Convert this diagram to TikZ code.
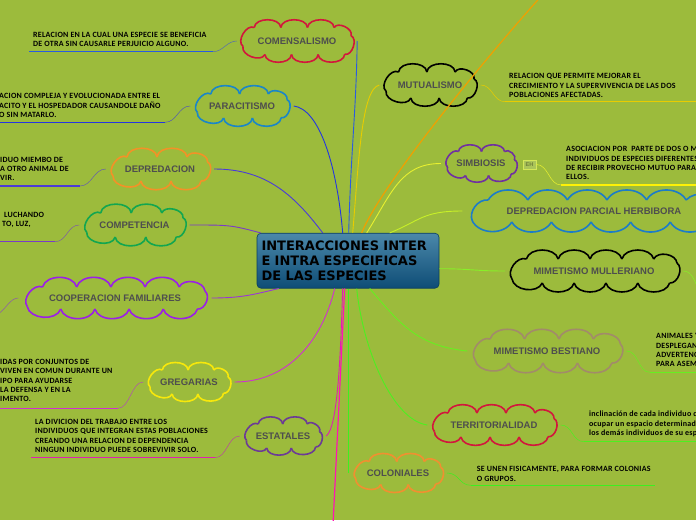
\documentclass[tikz,border=0pt]{standalone}
\usepackage{fontspec}
\usepackage{tikz}
\usetikzlibrary{calc,decorations.markings}
\newfontfamily\cloudfont{Liberation Sans}
\newfontfamily\descfont[LetterSpace=3]{Carlito}
\newfontfamily\titlefont{DejaVu Sans}
\definecolor{bgolive}{HTML}{9CBB3C}
\definecolor{labelgray}{HTML}{4E4E4E}
\definecolor{comred}{HTML}{D2173C}
\definecolor{parblue}{HTML}{1A86C8}
\definecolor{deporange}{HTML}{F39227}
\definecolor{compgreen}{HTML}{12A650}
\definecolor{cooppurple}{HTML}{9B1FE8}
\definecolor{gregyellow}{HTML}{F7E80B}
\definecolor{estpurple}{HTML}{6C3B96}
\definecolor{simpurple}{HTML}{7030A0}
\definecolor{herbblue}{HTML}{1C7CC8}
\definecolor{besbrown}{HTML}{A28B6A}
\definecolor{colorange}{HTML}{F09030}
\definecolor{lblue}{HTML}{2A5BE0}
\definecolor{lparblue}{HTML}{2436E0}
\definecolor{ldep}{HTML}{4B3BD8}
\definecolor{lcomp}{HTML}{7B3BC8}
\definecolor{lcoop}{HTML}{9A35D8}
\definecolor{lgreg}{HTML}{D030D0}
\definecolor{lest}{HTML}{E020B0}
\definecolor{lpink}{HTML}{FF14B4}
\definecolor{lmut}{HTML}{E8CC00}
\definecolor{lorange}{HTML}{F0A000}
\definecolor{lsim}{HTML}{E8F030}
\definecolor{lherb}{HTML}{C8F028}
\definecolor{lmull}{HTML}{88F028}
\definecolor{lbes}{HTML}{66F020}
\definecolor{lter}{HTML}{4CF020}
\definecolor{lcol}{HTML}{3CF020}
\definecolor{hubtop}{HTML}{4B88AA}
\definecolor{hubbot}{HTML}{0E4D76}
\definecolor{ehedge}{HTML}{D4E65A}
\definecolor{ehtext}{HTML}{6E7E3A}

% cloud outline: centre x, centre y, half width, half height, puffs, bend, colour
\newcommand{\puffcloud}[7]{%
  \path[rounded corners=8pt, decorate, decoration={markings, mark=between positions {1/(2*#5)} and 1 step {1/#5} with {\coordinate (cp\pgfkeysvalueof{/pgf/decoration/mark info/sequence number});}}]
    ({#1+#3},{#2}) -- ({#1+#3},{#2+#4}) -- ({#1-#3},{#2+#4}) -- ({#1-#3},{#2-#4}) -- ({#1+#3},{#2-#4}) -- cycle;
  \foreach \i in {1,...,#5} {
    \pgfmathtruncatemacro{\j}{mod(\i,#5)+1}
    \draw[#7, line width=1.6pt] (cp\i) to[bend left=#6] (cp\j);
  }
}

\begin{document}
\begin{tikzpicture}[x=1pt,y=-1pt,
  topic/.style={rectangle, inner sep=0pt, text=labelgray, font=\cloudfont\bfseries\fontsize{9.5}{11}\selectfont},
  hub/.style={rectangle, rounded corners=4pt, draw=hubbot!80!black, line width=0.6pt, top color=hubtop, bottom color=hubbot, minimum width=182pt, minimum height=55pt, text width=173pt, inner xsep=4.5pt, align=left, font=\titlefont\bfseries\fontsize{13}{15.3}\selectfont},
  desc/.style={anchor=north west, inner sep=0pt, align=left, text=black, font=\descfont\bfseries\fontsize{8}{9.3}\selectfont},
  link/.style={draw=#1, line width=0.9pt},
  under/.style={draw=#1, line width=1.4pt},
  thin/.style={draw=#1, line width=0.5pt}
]
\useasboundingbox (0,0) rectangle (696,520);
\clip (0,0) rectangle (696,520);
\fill[bgolive] (0,0) rectangle (696,520);

\node[hub] (ctr) at (348,260.7) {INTERACCIONES INTER\\E INTRA ESPECIFICAS\\DE LAS ESPECIES};

\puffcloud{297}{41}{54}{13.5}{10}{85}{comred}
\puffcloud{242}{106}{45}{12}{8}{85}{parblue}
\puffcloud{160}{169}{47.5}{12}{8}{85}{deporange}
\puffcloud{134.5}{225}{48.5}{12}{8}{85}{compgreen}
\puffcloud{115}{298}{90}{11}{12}{75}{cooppurple}
\puffcloud{189}{382}{39}{12}{8}{85}{gregyellow}
\puffcloud{283}{436}{36.5}{12}{8}{85}{estpurple}
\puffcloud{430}{85}{44}{13}{8}{85}{black}
\puffcloud{481}{163.5}{33.5}{12}{8}{85}{simpurple}
\puffcloud{594}{211}{126}{11}{14}{60}{herbblue}
\puffcloud{594}{271}{83}{12}{12}{75}{black}
\puffcloud{547}{351}{73.5}{12}{10}{75}{besbrown}
\puffcloud{494}{425}{60}{12}{10}{80}{comred}
\puffcloud{398}{473}{42.5}{11.5}{8}{85}{colorange}

\node[topic, minimum width=120pt, minimum height=43pt] (com) at (297,41) {COMENSALISMO};
\node[topic, minimum width=103pt, minimum height=40pt] (par) at (242,106) {PARACITISMO};
\node[topic, minimum width=108pt, minimum height=40pt] (dep) at (160,169) {DEPREDACION};
\node[topic, minimum width=110pt, minimum height=40pt] (comp) at (134.5,225) {COMPETENCIA};
\node[topic, minimum width=193pt, minimum height=38pt] (coop) at (115,298) {COOPERACION FAMILIARES};
\node[topic, minimum width=91pt, minimum height=40pt] (greg) at (189,382) {GREGARIAS};
\node[topic, minimum width=86pt, minimum height=40pt] (est) at (283,436) {ESTATALES};
\node[topic, minimum width=101pt, minimum height=42pt] (mut) at (430,85) {MUTUALISMO};
\node[topic, minimum width=80pt, minimum height=40pt] (sim) at (481,163.5) {SIMBIOSIS};
\node[rectangle, draw=ehedge, fill=bgolive!85!white, line width=0.8pt, minimum width=13pt, minimum height=9pt, inner sep=0pt, text=ehtext, font=\cloudfont\bfseries\fontsize{5.5}{6}\selectfont] (eh) at (529.5,164.5) {EH};
\node[topic, minimum width=263pt, minimum height=37pt] (herb) at (594,211) {DEPREDACION PARCIAL HERBIBORA};
\node[topic, minimum width=178pt, minimum height=40pt] (mull) at (594,271) {MIMETISMO MULLERIANO};
\node[topic, minimum width=159pt, minimum height=40pt] (bes) at (547,351) {MIMETISMO BESTIANO};
\node[topic, minimum width=133pt, minimum height=40pt] (ter) at (494,425) {TERRITORIALIDAD};
\node[topic, minimum width=98pt, minimum height=39pt] (col) at (398,473) {COLONIALES};

\node[desc] (comDesc) at (33,31.6) {RELACION EN LA CUAL UNA ESPECIE SE BENEFICIA\\DE OTRA SIN CAUSARLE PERJUICIO ALGUNO.};
\node[desc] (parDesc) at (-1,93.3) {ACION COMPLEJA Y EVOLUCIONADA ENTRE EL\\ACITO Y EL HOSPEDADOR CAUSANDOLE DAÑO\\O SIN MATARLO.};
\node[desc] (depDesc) at (0,156.7) {IDUO MIEMBO DE\\A OTRO ANIMAL DE\\VIR.};
\node[desc] (compDesc) at (2,211.7) {\hspace*{2pt}LUCHANDO\\TO, LUZ,};
\node[desc] (gregDesc) at (0,359) {IDAS POR CONJUNTOS DE\\VIVEN EN COMUN DURANTE UN\\IPO PARA AYUDARSE\\LA DEFENSA Y EN LA\\IMENTO.};
\node[desc] (estDesc) at (35,419) {LA DIVICION DEL TRABAJO ENTRE LOS\\INDIVIDUOS QUE INTEGRAN ESTAS POBLACIONES\\CREANDO UNA RELACION DE DEPENDENCIA\\NINGUN INDIVIDUO PUEDE SOBREVIVIR SOLO.};
\node[desc] (mutDesc) at (509,73.3) {RELACION QUE PERMITE MEJORAR EL\\CRECIMIENTO Y LA SUPERVIVENCIA DE LAS DOS\\POBLACIONES AFECTADAS.};
\node[desc] (simDesc) at (566,146.3) {ASOCIACION POR \ PARTE DE DOS O M\\INDIVIDUOS DE ESPECIES DIFERENTES\\DE RECIBIR PROVECHO MUTUO PARA\\ELLOS.};
\node[desc] (besDesc) at (656,333.3) {ANIMALES Y\\DESPLEGAN\\ADVERTENC\\PARA ASEM};
\node[desc] (terDesc) at (589,411) {inclinación de cada individuo d\\ocupar un espacio determinad\\los demás individuos de su esp};
\node[desc] (colDesc) at (476.7,466.3) {SE UNEN FISICAMENTE, PARA FORMAR COLONIAS\\O GRUPOS.};

\coordinate (comU1) at (29,51.7);   \coordinate (comU2) at (213,51.7);
\coordinate (parU1) at (-2,122.3);  \coordinate (parU2) at (165,122.3);
\coordinate (depU1) at (-2,186);    \coordinate (depU2) at (80,186);
\coordinate (compU1) at (-2,241.7); \coordinate (compU2) at (55,241.7);
\coordinate (gregU1) at (-2,408.3); \coordinate (gregU2) at (118,408.3);
\coordinate (estU1) at (31,457.7);  \coordinate (estU2) at (215,457.7);
\coordinate (mutU1) at (505,101.7); \coordinate (mutU2) at (700,101.7);
\coordinate (simU1) at (561,185);   \coordinate (simU2) at (700,185);
\coordinate (besU1) at (650,372.3); \coordinate (besU2) at (700,372.3);
\coordinate (terU1) at (584,441.7); \coordinate (terU2) at (700,441.7);
\coordinate (colU1) at (471,485.3); \coordinate (colU2) at (655,485.3);
\coordinate (coopEnd) at (-2,314);
\coordinate (mullEnd) at (700,292);
\coordinate (orangeEnd) at (545,-8);
\coordinate (pinkEnd) at (333,525);

\draw[under=lblue] (comU1) -- (comU2);
\draw[under=lparblue] (parU1) -- (parU2);
\draw[under=ldep] (depU1) -- (depU2);
\draw[under=lcomp] (compU1) -- (compU2);
\draw[under=lgreg] (gregU1) -- (gregU2);
\draw[under=lest] (estU1) -- (estU2);
\draw[under=lmut] (mutU1) -- (mutU2);
\draw[under=yellow!90!lsim] (simU1) -- (simU2);
\draw[under=lbes] (besU1) -- (besU2);
\draw[under=lter] (terU1) -- (terU2);
\draw[under=lcol] (colU1) -- (colU2);

\draw[thin=lblue!50!gray] (comU2) .. controls +(10,0) and +(-10,0) .. (com.west);
\draw[thin=lparblue!50!gray] (parU2) .. controls +(12,0) and +(-12,0) .. (par.west);
\draw[thin=ldep!50!gray] (depU2) .. controls +(12,0) and +(-12,0) .. (dep.west);
\draw[thin=lcomp!50!gray] (compU2) .. controls +(12,0) and +(-12,0) .. (comp.west);
\draw[thin=lcoop!50!gray] (coop.west) .. controls +(-8,0) and +(8,-5) .. (coopEnd);
\draw[thin=lgreg!60!gray] (gregU2) .. controls +(12,0) and +(-12,0) .. (greg.west);
\draw[thin=lest!60!gray] (estU2) .. controls +(12,0) and +(-12,0) .. (est.west);
\draw[thin=lmut] (mut.east) .. controls +(12,0) and +(-12,0) .. (mutU1);
\draw[thin=lsim] (eh.east) .. controls +(12,0) and +(-12,0) .. (simU1);
\draw[thin=lmull] (mull.east) .. controls +(10,0) and +(-5,-8) .. (mullEnd);
\draw[thin=lbes] (bes.east) .. controls +(12,0) and +(-12,0) .. (besU1);
\draw[thin=lter] (ter.east) .. controls +(12,0) and +(-12,0) .. (terU1);
\draw[thin=lcol] (col.east) .. controls +(12,0) and +(-12,0) .. (colU1);

\draw[link=lblue] (com.east) .. controls +(-1,70) and +(2,-80) .. ([xshift=92pt]ctr.north west);
\draw[link=lparblue] (par.east) .. controls +(25,3) and +(-6,-70) .. ([xshift=86pt]ctr.north west);
\draw[link=ldep] (dep.east) .. controls +(50,0) and +(-30,-40) .. ([xshift=66pt]ctr.north west);
\draw[link=lcomp] (comp.east) .. controls +(40,0) and +(-30,-8) .. ([xshift=4pt]ctr.north west);
\draw[link=lcoop] (coop.east) .. controls +(30,0) and +(-25,6) .. ([xshift=22pt]ctr.south west);
\draw[link=lgreg] (greg.east) .. controls +(55,0) and +(-12,50) .. ([xshift=78pt]ctr.south west);
\draw[link=lest] (est.east) .. controls +(12,-8) and +(-2,60) .. ([xshift=86pt]ctr.south west);
\draw[link=lpink, line width=1.2pt] ([xshift=88pt]ctr.south west) -- (pinkEnd);
\draw[link=lmut] (mut.west) .. controls +(-18,4) and +(6,-70) .. ([xshift=96pt]ctr.north west);
\draw[link=lorange, line width=1.2pt] ([xshift=105pt]ctr.north west) .. controls +(20,-50) and +(-50,55) .. (orangeEnd);
\draw[link=lsim] (sim.west) .. controls +(-40,0) and +(25,-40) .. ([xshift=110pt]ctr.north west);
\draw[link=lherb] (herb.west) .. controls +(-40,0) and +(30,-12) .. ([xshift=133pt]ctr.north west);
\draw[link=lmull] (mull.west) .. controls +(-30,0) and +(30,0) .. ([yshift=-8pt]ctr.east);
\draw[link=lbes] (bes.west) .. controls +(-50,-5) and +(30,35) .. ([xshift=113pt]ctr.south west);
\draw[link=lter] (ter.west) .. controls +(-35,-5) and +(6,60) .. ([xshift=100pt]ctr.south west);
\draw[link=lcol] (col.west) -- (col.west |- ctr.south);
\end{tikzpicture}
\end{document}
